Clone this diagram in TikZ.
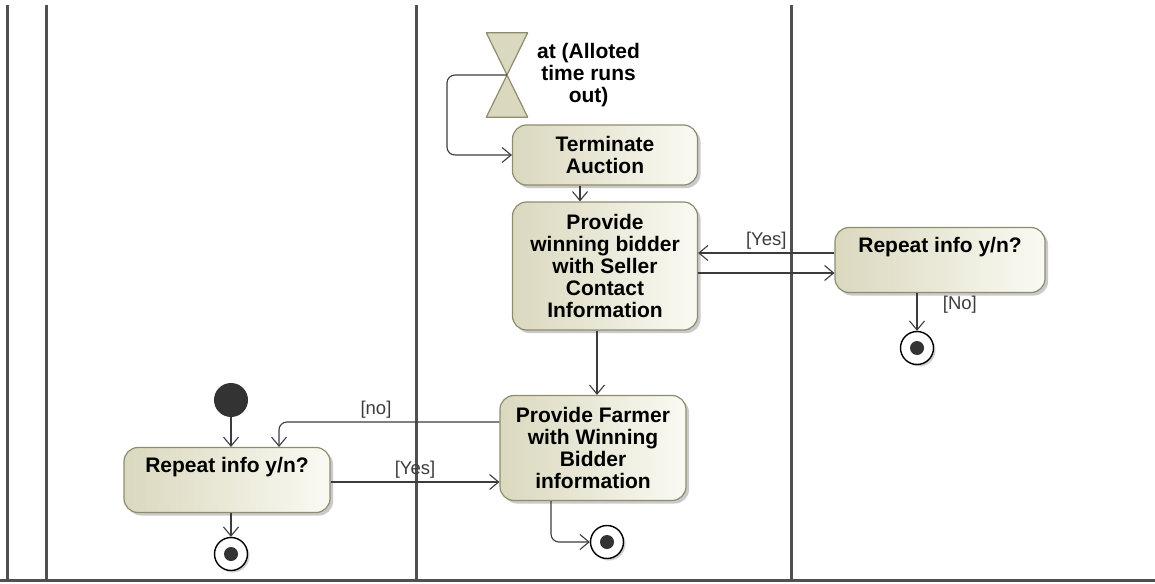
\documentclass[tikz,border=0pt]{standalone}
\usepackage{fontspec}
\setmainfont{Liberation Sans}
\usetikzlibrary{arrows.meta,positioning,shadows}
\definecolor{actfill}{HTML}{DAD8BE}
\definecolor{actlight}{HTML}{FAFAF3}
\definecolor{actline}{HTML}{8E8C6E}
\definecolor{laneline}{HTML}{505050}
\definecolor{flowline}{HTML}{3C3C3C}
\tikzset{
  action/.style={draw=actline, line width=1.2pt, rounded corners=14pt,
    left color=actfill, right color=actlight, align=center, inner sep=2pt,
    font=\fontsize{21}{22}\selectfont\bfseries,
    drop shadow={shadow xshift=3pt, shadow yshift=-3pt, opacity=0.35, fill=black!60}},
  flow/.style={draw=flowline, line width=1.1pt, -{Straight Barb[length=9pt,width=15pt]}},
  guard/.style={font=\fontsize{18.5}{20}\selectfont, text=flowline},
  lane/.style={draw=laneline, line width=3pt},
  startnode/.style={circle, fill=black!80, minimum size=34pt, inner sep=0pt},
  endnode/.style={circle, draw=black, line width=1.4pt, fill=white, minimum size=33pt, inner sep=0pt,
    path picture={\fill[black!80] (path picture bounding box.center) circle (7pt);},
    drop shadow={shadow xshift=2pt, shadow yshift=-2pt, opacity=0.3, fill=black!60}},
  hgbox/.style={minimum width=41pt, minimum height=84pt, inner sep=0pt},
}
\begin{document}
\begin{tikzpicture}[x=1pt,y=-1pt]
\useasboundingbox (0,0) rectangle (1155,583);
% swimlanes
\foreach \x in {7,46,416,791}
  \draw[lane] (\x,5) -- (\x,580);
\draw[lane] (0,580) -- (1155,580);

% time event
\node[hgbox] (hg) at (507,75) {};
\filldraw[draw=actline, fill=actfill, line width=1.2pt, line join=round]
  (hg.north west) -- (hg.north east) -- (hg.south west) -- (hg.south east) -- cycle;
\node[align=center, font=\fontsize{21}{22}\selectfont\bfseries, right=6pt of hg] (hglbl) {at (Alloted\\time runs\\out)};

\node[action, minimum width=185pt, minimum height=60pt] (term) at (605,155) {Terminate\\Auction};
\node[action, minimum width=185pt, minimum height=128pt] (win) at (605,266) {Provide\\winning bidder\\with Seller\\Contact\\Information};
\node[action, minimum width=210pt, minimum height=65pt, text depth=30pt] (repR) at (940,260) {Repeat info y/n?};
\node[action, minimum width=186pt, minimum height=105pt] (farm) at (593,448) {Provide Farmer\\with Winning\\Bidder\\information};
\node[action, minimum width=206pt, minimum height=65pt, text depth=30pt] (repL) at (227,480) {Repeat info y/n?};

\node[startnode] (init) at (231,400) {};
\node[endnode] (endL) at (231,554) {};
\node[endnode] (endM) at (607,542) {};
\node[endnode] (endR) at (917,348) {};

% flows
\draw[flow, rounded corners=8pt] (hg.center) -- ++(-60,0) |- (term.west);
\draw[flow] ([xshift=-25pt]term.south) -- ([xshift=-25pt]term.south |- win.north);
\draw[flow] ([yshift=13pt]win.east -| repR.west) -- node[guard, above] {[Yes]} ([yshift=13pt]win.east);
\draw[flow] ([yshift=-7pt]win.east) -- ([yshift=-7pt]win.east -| repR.west);
\draw[flow] ([xshift=-23pt]repR.south) -- node[guard, right=22pt, pos=0.3] {[No]} (endR.north);
\draw[flow] ([xshift=-8pt]win.south) -- ([xshift=-8pt]win.south |- farm.north);
\draw[flow] (init) -- (init |- repL.north);
\draw[flow, rounded corners=8pt] ([yshift=26pt]farm.west) -| node[guard, above, pos=0.28] {[no]} ([xshift=52pt]repL.north);
\draw[flow] ([yshift=-2pt]repL.east) -- node[guard, above] {[Yes]} ([yshift=-2pt]repL.east -| farm.west);
\draw[flow] (endL |- repL.south) -- (endL.north);
\draw[flow, rounded corners=8pt] ([xshift=-42pt]farm.south) |- (endM.west);
\end{tikzpicture}
\end{document}
